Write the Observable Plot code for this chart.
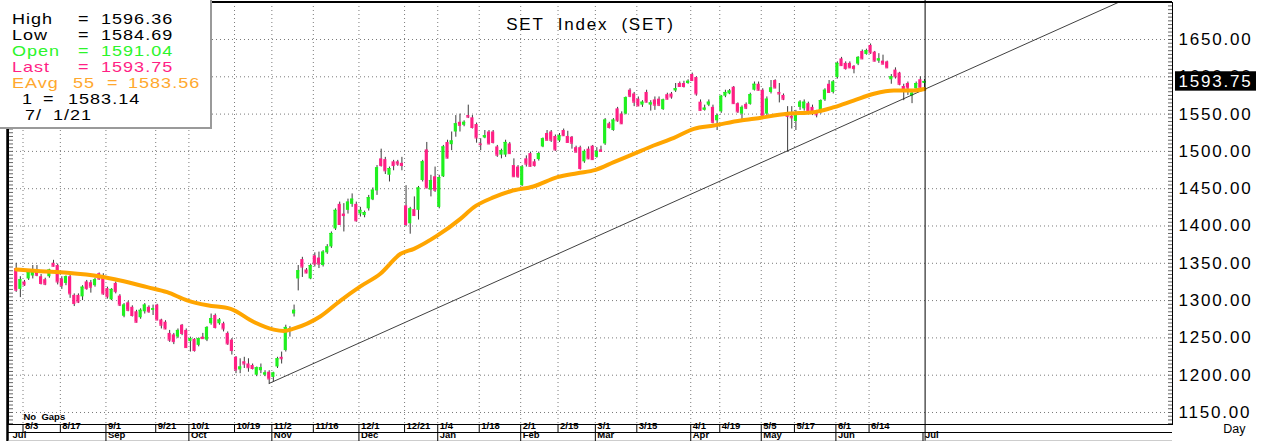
<!DOCTYPE html>
<html><head><meta charset="utf-8">
<script src="https://cdn.jsdelivr.net/npm/d3@7"></script>
<script src="https://cdn.jsdelivr.net/npm/@observablehq/plot@0.6"></script>
<style>
html,body{margin:0;padding:0;background:#fff;}
#wrap{position:relative;width:1268px;height:441px;overflow:hidden;font-family:"Liberation Sans",Arial,sans-serif;}
#chart svg{display:block;}
#legend{position:absolute;left:0;top:0;width:210px;height:127px;background:#fff;border-right:2px solid #9a9a9a;border-bottom:2px solid #9a9a9a;}
#legend .c{position:absolute;font-size:14.2px;letter-spacing:0.8px;line-height:15px;height:15px;white-space:pre;transform:scaleX(1.27);transform-origin:0 50%;}
</style></head>
<body><div id="wrap"><div id="chart"></div><div id="legend"></div></div>
<script>
// ---- data: daily candles, index 0 = 30 Jul 2020 ... 219 = 1 Jul 2021
const open = [
1343,1315,1325,1329,1333,1338,1332,1328,1332,1350,
1347,1329,1323,1332,1307,1307,1305,1325,1324,1320,
1336,1332,1316,1301,1323,1306,1279,1297,1291,1285,
1277,1285,1291,1287,1294,1274,1271,1256,1254,1251,
1267,1260,1245,1248,1240,1251,1247,1269,1280,1269,
1269,1256,1247,1224,1207,1218,1215,1213,1200,1206,
1200,1204,1197,1211,1224,1233,1259,1282,1329,1355,
1341,1329,1360,1357,1347,1364,1372,1396,1429,1416,
1421,1429,1429,1416,1414,1423,1435,1447,1490,1489,
1468,1486,1486,1484,1427,1403,1422,1421,1461,1502,
1448,1466,1425,1466,1512,1509,1526,1539,1535,1548,
1545,1536,1510,1518,1526,1526,1506,1495,1495,1510,
1481,1479,1454,1490,1497,1486,1489,1506,1524,1526,
1520,1514,1528,1520,1519,1505,1505,1486,1503,1507,
1492,1502,1510,1537,1528,1557,1550,1550,1582,1577,
1570,1562,1579,1562,1569,1570,1556,1576,1577,1581,
1591,1591,1591,1603,1599,1566,1555,1562,1559,1541,
1553,1574,1577,1586,1564,1550,1563,1563,1582,1590,
1582,1550,1579,1595,1579,1575,1549,1547,1540,1559,
1557,1564,1559,1553,1553,1569,1590,1579,1599,1624,
1618,1618,1614,1617,1634,1630,1642,1633,1621,1621,
1620,1596,1609,1605,1587,1591,1574,1584,1596,1591.04];
const high = [
1350,1332,1327,1341,1347,1347,1335,1330,1342,1354,
1349,1332,1333,1336,1309,1309,1320,1327,1327,1330,
1337,1336,1318,1316,1325,1308,1296,1299,1293,1287,
1289,1296,1293,1294,1295,1275,1273,1260,1256,1262,
1268,1262,1251,1249,1250,1256,1265,1282,1282,1276,
1271,1258,1249,1225,1222,1224,1222,1215,1211,1215,
1206,1206,1204,1224,1231,1267,1265,1294,1347,1358,
1343,1349,1364,1365,1367,1375,1392,1423,1432,1430,
1436,1443,1432,1425,1420,1441,1451,1481,1503,1492,
1479,1488,1488,1492,1454,1425,1439,1453,1488,1512,
1468,1479,1468,1508,1515,1526,1548,1550,1541,1562,
1548,1538,1517,1528,1528,1528,1508,1503,1515,1512,
1490,1481,1481,1494,1499,1489,1499,1518,1528,1528,
1522,1524,1530,1527,1520,1507,1507,1502,1506,1508,
1505,1507,1544,1539,1544,1559,1553,1573,1584,1579,
1573,1568,1582,1568,1573,1573,1570,1578,1579,1591,
1593,1594,1596,1605,1600,1569,1562,1569,1562,1550,
1575,1582,1583,1587,1565,1561,1565,1578,1593,1593,
1584,1573,1595,1596,1591,1577,1560,1560,1555,1568,
1569,1566,1562,1555,1569,1584,1595,1595,1620,1626,
1620,1620,1615,1627,1636,1637,1644,1634,1631,1629,
1621,1603,1612,1606,1590,1593,1582,1593,1600,1596.36];
const low = [
1311,1304,1319,1327,1329,1332,1321,1320,1330,1345,
1321,1315,1320,1303,1292,1296,1300,1314,1310,1318,
1327,1307,1302,1300,1309,1292,1277,1285,1278,1270,
1275,1282,1283,1280,1273,1262,1261,1244,1241,1249,
1253,1236,1231,1231,1238,1248,1245,1267,1262,1267,
1258,1240,1227,1202,1202,1209,1204,1207,1198,1202,
1198,1188,1191,1209,1215,1231,1251,1278,1313,1331,
1336,1328,1345,1343,1345,1362,1370,1394,1401,1392,
1416,1425,1405,1412,1411,1420,1434,1441,1479,1469,
1459,1474,1480,1474,1399,1389,1413,1408,1459,1450,
1439,1445,1423,1465,1490,1501,1519,1526,1533,1544,
1530,1511,1501,1517,1509,1510,1492,1490,1492,1496,
1465,1464,1453,1479,1479,1479,1487,1505,1514,1512,
1500,1512,1520,1511,1503,1498,1475,1484,1489,1488,
1491,1499,1508,1530,1527,1539,1536,1549,1572,1560,
1560,1559,1565,1554,1555,1560,1555,1569,1570,1579,
1586,1585,1590,1594,1574,1554,1554,1560,1537,1528,
1551,1572,1576,1563,1551,1542,1556,1562,1581,1581,
1547,1548,1577,1584,1565,1568,1499,1530,1528,1555,
1554,1550,1548,1545,1550,1567,1578,1577,1597,1614,
1609,1611,1604,1615,1623,1629,1630,1620,1618,1616,
1611,1590,1597,1588,1568,1575,1564,1582,1583,1584.69];
const close = [
1314,1328,1321,1338,1338,1334,1323,1322,1341,1346,
1325,1320,1332,1309,1296,1298,1318,1316,1318,1328,
1329,1309,1305,1315,1312,1294,1294,1287,1280,1271,
1287,1294,1285,1289,1274,1267,1262,1247,1245,1260,
1256,1237,1249,1233,1249,1249,1264,1276,1264,1274,
1262,1242,1233,1207,1211,1215,1210,1209,1210,1210,
1203,1195,1203,1222,1222,1264,1262,1287,1340,1345,
1337,1347,1349,1349,1365,1372,1390,1421,1402,1414,
1432,1436,1407,1421,1418,1438,1448,1478,1481,1474,
1477,1481,1483,1481,1402,1423,1414,1451,1486,1451,
1461,1448,1465,1506,1491,1514,1537,1535,1539,1546,
1532,1518,1509,1521,1510,1512,1495,1501,1512,1497,
1466,1466,1479,1483,1480,1481,1497,1517,1515,1515,
1502,1521,1521,1512,1511,1499,1477,1500,1490,1489,
1500,1500,1542,1532,1542,1541,1537,1572,1574,1566,
1561,1566,1566,1565,1562,1562,1569,1570,1573,1584,
1587,1587,1594,1595,1577,1555,1558,1566,1539,1548,
1574,1579,1581,1564,1553,1559,1558,1576,1590,1582,
1548,1570,1585,1585,1577,1570,1547,1545,1548,1566,
1566,1553,1551,1549,1568,1582,1579,1593,1618,1615,
1611,1612,1611,1626,1624,1635,1632,1621,1624,1617,
1612,1600,1600,1590,1583,1585,1578,1591,1585,1593.75];

// 55-day exponential average (trading-day index, value)
const emaIdx = [0,5.9,12.3,20.3,25.1,31.6,36.4,41.2,46.1,51.7,57.3,62.1,64.5,66.9,73.4,78.2,83,87.8,92.7,95.9,101.5,107.1,110.3,115.2,119.2,124.7,130.5,135.3,139.7,144.1,148.9,153.7,158.6,163.4,168.2,174.7,177.9,185.9,192.3,197.2,201.9,206.8,211.6,216.4,219];
const emaVal = [1341.7,1339.4,1337.3,1332.3,1327,1318,1311.3,1300.4,1293.7,1289,1271.3,1261.1,1259.3,1262.4,1279,1300,1319,1336,1362.7,1369.4,1387,1409.6,1425,1438.6,1446.6,1453,1465.5,1470.8,1475.3,1485.6,1496.7,1507.9,1518.2,1530.3,1534.7,1541.4,1543.7,1550.4,1552.6,1559.3,1568.2,1577.2,1581.6,1581.6,1583.56];

// trend line "1": from the October low to its value on the last day
const trendIdx = [61, 219];
const trendVal = [1189, 1583.14];

// axis labels
const yTicks = [1150,1200,1250,1300,1350,1400,1450,1500,1550,1600,1650];
const dateLabels = ["8/3","8/17","9/1","9/21","10/1","10/19","11/2","11/16","12/1","12/21","1/4","1/18","2/1","2/15","3/1","3/15","4/1","4/19","5/5","5/17","6/1","6/14"];
const dateIdx = [2,11,22,34,42,53,62,72,83,94,102,112,122,131,140,150,163,170,180,188,198,206];
const monthLabels = ["Jul","Sep","Oct","Nov","Dec","Jan","Feb","Mar","Apr","May","Jun","Jul"];
const monthIdx = [-1,22,42,62,83,102,122,140,163,180,198,219];
const title = "SET\u00a0\u00a0Index\u00a0\u00a0(SET)";
const lastDateLabel = ["7/", "1/21"];

// ---- build
const n = open.length;
const candles = open.map((o, i) => ({i, o, h: high[i], l: low[i], c: close[i]}));
const GREEN = "#1ff01f", PINK = "#ff1f85", WICK = "#3c3c3c";
const col = d => d.c >= d.o ? GREEN : PINK;
const ema = emaIdx.map((x, k) => ({x, v: emaVal[k]}));
const slope = (trendVal[1] - trendVal[0]) / (trendIdx[1] - trendIdx[0]);
const trend = [{x: trendIdx[0], v: trendVal[0]}, {x: trendIdx[1] + 60, v: trendVal[1] + slope * 60}];
const sepOff = 0.36;
const dateSep = dateIdx.map(i => i - sepOff);
const monthSep = monthIdx.map(i => i - sepOff);
const minor = d3.range(1135, 1700, 5);
const lastClose = close[n - 1];
const yDom = [1133.9, 1699.6];
const frameW = 1172 - 8, frameH = 424 - 2;

const chart = Plot.plot({
  width: 1268, height: 441,
  marginLeft: 8, marginRight: 96, marginTop: 2, marginBottom: 17,
  x: {domain: [-1.857, 278.8], axis: null},
  y: {domain: yDom, axis: null},
  style: {fontFamily: '"Liberation Sans", Arial, sans-serif', background: "transparent", overflow: "visible", color: "#000"},
  marks: [
    Plot.ruleY(yTicks, {stroke: "#7a7a7a", strokeDasharray: "1,3"}),
    Plot.ruleX(dateSep, {stroke: "#7a7a7a", strokeDasharray: "1,3"}),
    Plot.ruleY(minor, {stroke: "#666", insetRight: frameW - 5}),
    Plot.ruleY(minor, {stroke: "#666", insetLeft: frameW - 4}),
    // candles
    Plot.ruleX(candles, {x: "i", y1: "l", y2: "h", stroke: WICK, strokeWidth: 1}),
    Plot.rect(candles, {x1: d => d.i - 0.38, x2: d => d.i + 0.38, y1: d => Math.min(d.o, d.c), y2: d => Math.max(d.o, d.c), fill: col}),
    Plot.ruleY(candles, {y: "c", x1: d => d.i - 0.38, x2: d => d.i + 0.38, stroke: col}),
    // trend line and exponential average
    Plot.line(trend, {x: "x", y: "v", stroke: "#2a2a2a", strokeWidth: 0.9, clip: true}),
    Plot.line(ema, {x: "x", y: "v", stroke: "#ffa500", strokeWidth: 4, curve: "monotone-x"}),
    // current-date cursor
    Plot.ruleX([monthIdx[monthIdx.length - 1] + 0.15], {stroke: "#000", insetTop: -2, insetBottom: -17}),
    Plot.frame({stroke: "#000"}),
    Plot.ruleY([yDom[1]], {stroke: "#000", strokeWidth: 2, dy: -0.5}),
    Plot.ruleX([-1.857], {stroke: "#000", strokeWidth: 2.5, dx: -1, insetTop: -2, insetBottom: -17}),
    // date rows
    Plot.ruleY([yDom[0]], {dy: 8, stroke: "#000"}),
    Plot.ruleY([yDom[0]], {dy: 16.5, stroke: "#9a9a9a"}),
    Plot.ruleX(dateSep, {stroke: "#000", insetTop: frameH, insetBottom: -8}),
    Plot.ruleX(monthSep.slice(1), {stroke: "#000", insetTop: frameH + 8, insetBottom: -17}),
    Plot.text(dateLabels, {x: (d, k) => dateSep[k], frameAnchor: "bottom", dy: 4.5, dx: 2, textAnchor: "start", fontWeight: "bold", fontSize: 9.5, fill: "#000"}),
    Plot.text(monthLabels, {x: (d, k) => monthSep[k], frameAnchor: "bottom", dy: 13, dx: 2, textAnchor: "start", fontWeight: "bold", fontSize: 9.5, fill: "#000"}),
    Plot.text(["No\u00a0\u00a0Gaps"], {frameAnchor: "bottom-left", dx: 15, dy: -5, textAnchor: "start", fontWeight: "bold", fontSize: 9.5, fill: "#000"}),
    // title
    Plot.text([title], {frameAnchor: "top", dy: 15, fontSize: 17, fill: "#000"}),
    // right axis labels
    Plot.text(yTicks, {y: d => d, text: d => d.toFixed(2), frameAnchor: "right", dx: 6, textAnchor: "start", fontSize: 17, fill: "#000"}),
    Plot.rect([lastClose], {y1: d => d - 13, y2: d => d + 13, insetLeft: frameW + 3, insetRight: -84, fill: "#000"}),
    Plot.text([lastClose], {y: d => d, text: d => d.toFixed(2), frameAnchor: "right", dx: 6, textAnchor: "start", fontSize: 17, fill: "#fff"}),
    Plot.text(["Day"], {frameAnchor: "bottom-right", dx: 73, dy: 8, fontSize: 12.5, fill: "#000"})
  ]
});
document.getElementById("chart").appendChild(chart);
// wide letter spacing of the price labels and the title, as in the reference
d3.select(chart).selectAll("text")
  .filter(function() { const t = this.textContent; return /^\d{4}\.\d\d$/.test(t) || t === title; })
  .style("letter-spacing", "1.8px");

// legend box (top-left)
const legendRows = [
  {color: "#000", cells: [["High", 12], ["=", 78], [high[n-1].toFixed(2), 101]]},
  {color: "#000", cells: [["Low", 12], ["=", 78], [low[n-1].toFixed(2), 101]]},
  {color: "#2bf52b", cells: [["Open", 12], ["=", 78], [open[n-1].toFixed(2), 101]]},
  {color: "#ff1f85", cells: [["Last", 12], ["=", 78], [close[n-1].toFixed(2), 101]]},
  {color: "#ffa82e", cells: [["EAvg", 12], ["55", 73], ["=", 107], [emaVal[emaVal.length-1].toFixed(2), 128]]},
  {color: "#000", cells: [["1", 22], ["=", 43], [trendVal[1].toFixed(2), 68]]},
  {color: "#000", cells: [[lastDateLabel[0], 25], [lastDateLabel[1], 53]]}
];
const leg = document.getElementById("legend");
legendRows.forEach((r, k) => {
  r.cells.forEach(([t, x]) => {
    const s = document.createElement("span");
    s.className = "c";
    s.textContent = t;
    s.style.left = x + "px";
    s.style.top = (12 + k * 16) + "px";
    s.style.color = r.color;
    leg.appendChild(s);
  });
});
</script>
</body></html>
